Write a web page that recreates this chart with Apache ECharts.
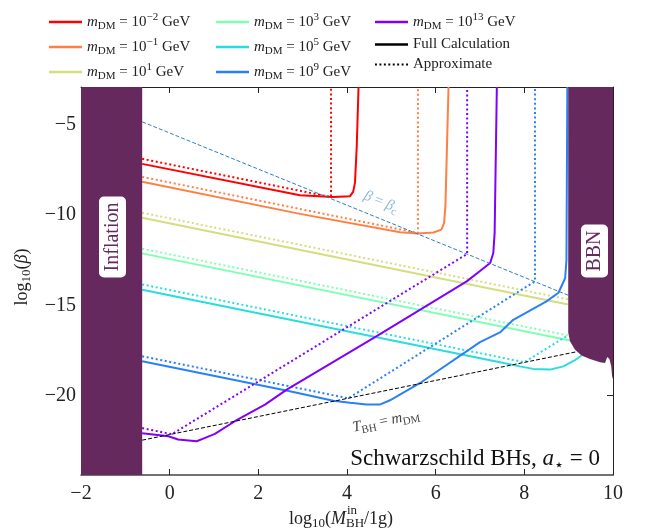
<!DOCTYPE html>
<html><head><meta charset="utf-8">
<script src="https://cdn.jsdelivr.net/npm/echarts@6/dist/echarts.min.js"></script>
<style>html,body{margin:0;padding:0;background:#fff}#c{width:645px;height:531px}</style>
</head><body><div id="c"></div>
<script>
// ---------- data ----------
const xTicks = [-2, 0, 2, 4, 6, 8, 10];
const yTicks = [-20, -15, -10, -5];
const xRange = [-2, 10];
const yRange = [-24.4, -2.9];
const massExponents = ['−2', '−1', '1', '3', '5', '9', '13'];
const seriesKeys = ['m-2', 'm-1', 'm1', 'm3', 'm5', 'm9', 'm13'];

const fullM2 = [[-0.62,-7.16],[2.94,-8.9],[3.68,-9.0],[4.07,-8.95],[4.14,-8.7],[4.18,-8.2],[4.22,-6.2],[4.26,-2.9]];
const approxM2 = [[-0.62,-6.88],[3.64,-9.0],[3.64,-2.9]];
const fullM1 = [[-0.62,-8.15],[2.94,-9.93],[5.2,-10.95],[5.6,-11.02],[5.95,-10.96],[6.13,-10.8],[6.19,-10.44],[6.22,-9.5],[6.29,-2.9]];
const approxM1 = [[-0.62,-7.88],[5.6,-10.99],[5.6,-2.9]];
const fullP1 = [[-0.62,-10.15],[8.99,-14.95]];
const approxP1 = [[-0.62,-9.87],[8.99,-14.67]];
const fullP3 = [[-0.62,-12.12],[9.03,-16.95]];
const approxP3 = [[-0.62,-11.86],[8.99,-16.67]];
const fullP5 = [[-0.62,-14.13],[7.45,-18.15],[7.9,-18.38],[8.2,-18.52],[8.58,-18.56],[8.88,-18.38],[9.14,-18.04],[9.29,-17.78]];
const approxP5 = [[-0.62,-13.84],[8.0,-18.15],[8.99,-16.65]];
const fullP9 = [[-0.62,-18.1],[2.71,-19.76],[3.69,-20.28],[4.07,-20.4],[4.44,-20.5],[4.74,-20.5],[4.97,-20.26],[5.65,-19.3],[7.0,-17.04],[7.45,-16.5],[7.75,-15.8],[8.5,-14.78],[8.77,-14.3],[8.92,-13.5],[8.95,-12.5],[8.97,-2.9]];
const approxP9 = [[-0.62,-17.82],[4.03,-20.15],[8.24,-13.67],[8.24,-2.9]];
const fullP13 = [[-0.62,-22.08],[-0.03,-22.25],[0.19,-22.43],[0.61,-22.53],[0.8,-22.34],[1.02,-22.12],[1.47,-21.42],[2.15,-20.5],[2.64,-19.67],[4.67,-16.71],[6.7,-13.67],[7.0,-13.1],[7.23,-12.65],[7.3,-12.1],[7.33,-11.0],[7.38,-2.9]];
const approxP13 = [[-0.62,-21.8],[0.05,-22.14],[6.71,-12.15],[6.71,-2.9]];

const betaCritLine = [[-0.62,-4.83],[8.99,-14.44]];
const tempLine = [[-0.62,-22.47],[9.2,-17.56]];

const inflationEdge = -0.62;
const bbnBoundary = [[8.99,-2.9],[8.99,-16.51],[9.03,-16.99],[9.14,-17.45],[9.29,-17.78],[9.48,-17.97],[9.71,-18.15],[9.82,-18.19],[9.87,-17.86],[9.92,-17.97],[9.96,-18.38],[9.98,-18.93],[10,-19.1],[10,-2.9]];

const fullSets = [fullM2, fullM1, fullP1, fullP3, fullP5, fullP9, fullP13];
const approxSets = [approxM2, approxM1, approxP1, approxP3, approxP5, approxP9, approxP13];

// ---------- style ----------
const F = "'Liberation Serif','DejaVu Serif',serif";
const colors = ['#ff0000','#ff8042','#d4dd80','#80ffb4','#2adddd','#2a80f6','#8000ff'];
const regionColor = '#66295e';
const dotted = [2, 2.6];
const dotIcon = 'path://M0 0h2v2h-2z M4.6 0h2v2h-2z M9.2 0h2v2h-2z M13.8 0h2v2h-2z M18.4 0h2v2h-2z M23 0h2v2h-2z M27.6 0h2v2h-2z M32.2 0h2v2h-2z';

function rich(base, color) {
  const small = Math.round(base * 0.7);
  const lh = Math.round(base * 1.3);
  return {
    n: {fontFamily: F, fontSize: base, lineHeight: lh, color: color, fill: color},
    i: {fontFamily: F, fontSize: base, fontStyle: 'italic', lineHeight: lh, color: color, fill: color},
    s: {fontFamily: F, fontSize: small, lineHeight: Math.round(small * 0.9), verticalAlign: 'bottom', color: color, fill: color},
    p: {fontFamily: F, fontSize: small, lineHeight: Math.round(small * 1.1), verticalAlign: 'top', color: color, fill: color}
  };
}
const fmt = v => (v < 0 ? '−' + Math.abs(v) : String(v));

// measure text for placing the stacked superscript of the x-axis title
const mctx = document.createElement('canvas').getContext('2d');
function tw(font, s) { mctx.font = font; return mctx.measureText(s).width; }
const xNameLeft = 289;
const inX = xNameLeft + tw('18px ' + F, 'log') + tw('13px ' + F, '10') + tw('18px ' + F, '(') + tw('italic 18px ' + F, 'M') + 1;

const series = [];
seriesKeys.forEach((k, i) => {
  series.push({name: k, type: 'line', data: fullSets[i], symbol: 'none', z: 2,
    lineStyle: {color: colors[i], width: 2}, itemStyle: {color: colors[i]}});
  series.push({name: k + ' approx', type: 'line', data: approxSets[i], symbol: 'none', z: 2,
    lineStyle: {color: colors[i], width: 2, type: dotted}, itemStyle: {color: colors[i]}});
});
series.push({name: 'full', type: 'line', data: [], symbol: 'none', lineStyle: {color: '#000', width: 2}, itemStyle: {color: '#000'}});
series.push({name: 'approx', type: 'line', data: [], symbol: 'none', lineStyle: {color: '#000', width: 2, type: dotted}, itemStyle: {color: '#000'}});
series.push({name: 'betac', type: 'line', data: betaCritLine, symbol: 'none', z: 2, lineStyle: {color: '#2f7fc0', width: 1, type: [4, 2]}});
series.push({name: 'tbh', type: 'line', data: tempLine, symbol: 'none', z: 2, lineStyle: {color: '#000', width: 1, type: [4, 2]}});

function polySeries(name, pts) {
  return {name: name, type: 'custom', z: 5, data: [pts[0]],
    renderItem: (params, api) => ({type: 'polygon', shape: {points: pts.map(p => api.coord(p))}, style: {fill: regionColor}})};
}
series.push(polySeries('inflation', [[xRange[0], yRange[0]], [inflationEdge, yRange[0]], [inflationEdge, yRange[1]], [xRange[0], yRange[1]]]));
series.push(polySeries('bbn', bbnBoundary));

function legendFmt(name) {
  if (name === 'full') return '{n|Full Calculation}';
  if (name === 'approx') return '{n|Approximate}';
  const e = massExponents[seriesKeys.indexOf(name)];
  return '{i|m}{s|DM}{n| = 10}{p|' + e + '}{n| GeV}';
}
function legend(left, items) {
  return {orient: 'vertical', left: left, top: 12, padding: 0, itemWidth: 33, itemHeight: 2.5, itemGap: 5,
    icon: 'rect',
    data: items.map(n => n === 'approx' ? {name: n, icon: dotIcon} : {name: n}),
    formatter: legendFmt, selectedMode: false,
    textStyle: {fontFamily: F, fontSize: 15, color: '#222', rich: rich(15, '#222')}};
}

const axisCommon = {splitLine: {show: false}};
const option = {
  animation: false,
  backgroundColor: '#fff',
  grid: {left: 81, right: 32, top: 87, bottom: 56},
  legend: [legend(49, ['m-2','m-1','m1']), legend(216, ['m3','m5','m9']), legend(375, ['m13','full','approx'])],
  xAxis: [
    Object.assign({type: 'value', min: xRange[0], max: xRange[1], interval: 2, position: 'bottom',
      axisLine: {onZero: false, lineStyle: {color: '#444', width: 1.5}},
      axisTick: {inside: true, length: 6, lineStyle: {color: '#222'}},
      axisLabel: {formatter: fmt, fontFamily: F, fontSize: 20, color: '#222', margin: 9}}, axisCommon),
    Object.assign({type: 'value', min: xRange[0], max: xRange[1], interval: 2, position: 'top',
      axisLine: {onZero: false, lineStyle: {color: '#222', width: 1}},
      axisTick: {inside: true, length: 6, lineStyle: {color: '#222'}},
      axisLabel: {show: false}}, axisCommon)
  ],
  yAxis: [
    Object.assign({type: 'value', min: yRange[0], max: yRange[1], position: 'left',
      axisLine: {onZero: false, lineStyle: {color: '#222'}},
      axisTick: {inside: true, length: 6, customValues: yTicks, lineStyle: {color: '#222'}},
      axisLabel: {customValues: yTicks, formatter: fmt, fontFamily: F, fontSize: 20, color: '#222', margin: 5}}, axisCommon),
    Object.assign({type: 'value', min: yRange[0], max: yRange[1], position: 'right',
      axisLine: {onZero: false, lineStyle: {color: '#222'}},
      axisTick: {inside: true, length: 6, customValues: yTicks, lineStyle: {color: '#222'}},
      axisLabel: {show: false}}, axisCommon)
  ],
  series: series,
  graphic: [
    {type: 'text', x: 112.5, y: 237, rotation: Math.PI / 2, z: 20,
      style: {text: 'Inflation', font: '20px ' + F, fill: regionColor, backgroundColor: '#fff', padding: [4, 6, 3, 6], borderRadius: 5, align: 'center', verticalAlign: 'middle'}},
    {type: 'text', x: 594.5, y: 251, rotation: Math.PI / 2, z: 20,
      style: {text: 'BBN', font: '20px ' + F, fill: regionColor, backgroundColor: '#fff', padding: [4, 6, 3, 6], borderRadius: 5, align: 'center', verticalAlign: 'middle'}},
    {type: 'text', x: 381, y: 202, rotation: -0.39, z: 20,
      style: {text: '{i|β}{n| = }{i|β}{s|c}', rich: rich(15, '#8fbbd9'), align: 'center', verticalAlign: 'middle'}},
    {type: 'text', x: 386, y: 421, rotation: 0.2, z: 20,
      style: {text: '{i|T}{s|BH}{n| = }{i|m}{s|DM}', rich: rich(15, '#444'), align: 'center', verticalAlign: 'middle'}},
    {type: 'text', x: 600, y: 459, z: 20,
      style: {text: '{n|Schwarzschild BHs, }{i|a}{s|⋆}{n| = 0}', rich: rich(23, '#111'), align: 'right', verticalAlign: 'middle'}},
    {type: 'text', x: xNameLeft, y: 519, z: 20,
      style: {text: '{n|log}{s|10}{n|(}{i|M}{s|BH}{n|/1g)}', rich: rich(18, '#222'), align: 'left', verticalAlign: 'middle'}},
    {type: 'text', x: inX, y: 511, z: 20,
      style: {text: 'in', font: '13px ' + F, fill: '#222', align: 'left', verticalAlign: 'middle'}},
    {type: 'text', x: 22, y: 277, rotation: Math.PI / 2, z: 20,
      style: {text: '{n|log}{s|10}{n|(}{i|β}{n|)}', rich: rich(18, '#222'), align: 'center', verticalAlign: 'middle'}}
  ]
};
echarts.init(document.getElementById('c'), null, {renderer: 'canvas'}).setOption(option);
</script></body></html>
